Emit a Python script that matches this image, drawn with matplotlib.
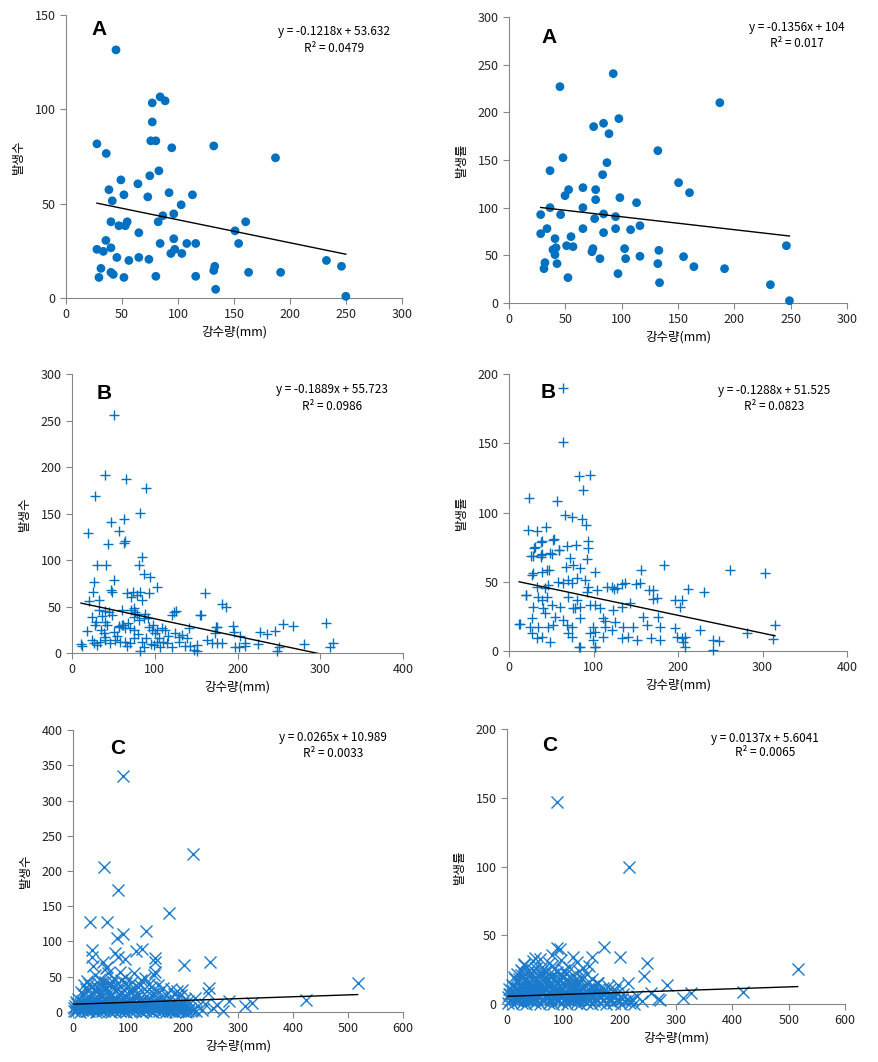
import numpy as np
import matplotlib
matplotlib.use("Agg")
import matplotlib.pyplot as plt

plt.rcParams['font.family'] = ['Noto Sans CJK KR', 'DejaVu Sans']

# ---- data -----------------------------------------------------------------
a_left_x = [44.6, 27.6, 35.9, 84, 88.5, 77, 77, 75.7, 80.2, 94.4, 131.9, 187, 82.9, 74.8, 49,
            64.2, 38.3, 92, 51.7, 112.9, 73, 41.3, 102.8, 86.4, 96.2, 40.1, 54.6, 82.3, 160.4, 47.2,
            52.9, 65, 150.9, 35.6, 96.2, 84, 107.8, 115.8, 154.1, 27.6, 33.3, 40.1, 97.1, 93.6, 103.4,
            45.4, 65, 74, 56.1, 232.5, 245.9, 132.8, 131.9, 31.2, 40.1, 42.2, 163, 191.6, 29.4, 51.7,
            80.2, 115.8, 133.6, 249.8]
a_left_y = [131.5, 81.7, 76.6, 106.6, 104.5, 103.4, 93.3, 83.3, 83.3, 79.6, 80.6, 74.3, 67.4, 64.8, 62.6,
            60.5, 57.4, 55.8, 54.7, 54.7, 53.6, 51.5, 49.4, 43.6, 44.6, 40.4, 40.4, 40.4, 40.4, 38.3,
            38.3, 34.6, 35.6, 30.5, 31.4, 28.9, 28.9, 28.9, 28.9, 25.8, 24.7, 26.6, 25.8, 23.6, 23.6,
            21.5, 21.5, 20.5, 19.9, 19.9, 16.8, 16.8, 14.6, 15.7, 13.6, 12.5, 13.6, 13.6, 10.9, 10.9,
            11.5, 11.5, 4.6, 0.9]

a_right_x = [92.5, 45.2, 187.1, 97.5, 75.1, 83.9, 88.7, 132.1, 47.9, 86.9, 36.4, 83.1, 150.5, 160.2, 65.6,
             52.9, 76.9, 49.7, 76.9, 98.4, 113.2, 36.4, 65.6, 28.1, 45.8, 83.9, 94.6, 76, 33.7, 65.6,
             94.6, 83.9, 107.9, 116.2, 28.1, 55, 40.8, 246.2, 51.1, 56.8, 41.7, 39, 74.5, 73.6, 102.6,
             133, 40.8, 116.2, 154.9, 80.7, 103.5, 31.9, 42.6, 132.1, 164.1, 31, 191.3, 96.7, 52.3, 133.6,
             232, 248.9]
a_right_y = [240.6, 226.9, 210.1, 193.4, 185, 188.5, 177.6, 159.8, 152.4, 147.2, 138.8, 134.6, 126.2, 115.7, 121,
             118.9, 118.9, 112.6, 108.4, 110.5, 105.2, 100, 100, 92.7, 92.7, 93.4, 90.6, 88.5, 78, 78,
             78, 73.8, 76.9, 81.1, 72.7, 69.6, 67.5, 60.1, 60.1, 59.1, 58, 55.9, 57, 53.8, 57,
             55.2, 50.7, 49, 48.6, 46.5, 46.5, 42.3, 41.3, 41.3, 38.1, 36, 36, 30.8, 26.6, 21.3,
             19.2, 2.4]

b_left_pts = [
    (50.8, 255.6), (39.9, 191.2), (65.7, 186.9), (89.8, 177.2), (27.8, 168.6), (82.2, 150.7), (63.2, 143.9),
    (46.7, 140.7), (56.8, 131.4), (19.3, 129.3), (64, 120.7), (63.2, 118.5), (43.1, 117.4), (84.6, 103.1),
    (30.2, 94.2), (40.7, 94.5), (81.4, 94.5), (87, 84.9), (94.3, 81.6), (50.4, 78.4), (27, 75.9),
    (102.7, 70.9), (47.5, 67.7), (25.8, 65.5), (160.7, 64.1), (180.9, 52.6), (186.1, 49.8), (125.3, 44.8),
    (156.3, 40.8), (120.8, 40.8), (307.3, 32.2), (255, 30.8), (267.1, 28.6), (194.2, 29.4), (174.4, 27.9),
    (245.3, 24), (226.8, 22.6), (235.1, 20), (203.4, 17.9), (315.4, 10.4), (280.4, 9.7), (312.3, 6.4),
    (224.8, 9.3), (250.2, 6.4), (247.8, 1.8), (10.9, 9.3), (18.1, 24), (81.8, 1.8), (151.5, 1.8),
    (208.7, 7.2), (201.8, 6.4),
    (66.5, 64.2), (73.7, 66), (82.6, 66), (92.6, 64.2), (48.3, 66), (20.9, 55.9), (32.2, 57), (71.7, 60.6),
    (78.5, 62.4), (84.6, 57), (40.3, 45.5), (44.3, 44.4), (48.3, 40.9), (60.4, 46.2), (71.7, 46.2),
    (76.5, 44.4), (122.9, 44.4), (155, 40.9), (24.2, 39.1), (29, 33.7), (40.3, 33.7), (42.3, 30.1),
    (74.5, 39.1), (80.6, 35.5), (86.6, 37.3), (56.4, 29), (60.4, 30.1), (64.5, 26.5), (92.6, 28.3),
    (96.7, 24.7), (102.7, 24.7), (108.8, 26.5), (112.8, 24.7), (141, 26.5), (28.2, 30.1), (35.4, 24.7),
    (38.3, 21.1), (40.3, 17.6), (50.4, 22.9), (70.5, 26.5), (74.5, 24.7), (124.9, 21.1), (128.9, 17.6),
    (132.9, 19.4), (139, 15.8), (175.2, 27.6), (173.2, 21.1), (195.4, 22.9), (24.2, 14), (26.2, 10.4),
    (30.2, 8.6), (34.2, 12.2), (40.3, 14), (46.3, 10.4), (52.4, 14), (64.5, 12.2), (70.5, 10.4),
    (74.5, 15.8), (84.6, 12.2), (86.6, 6.8), (98.7, 8.6), (102.7, 12.2), (106.7, 6.8), (114.8, 10.4),
    (120.8, 6.8), (128.9, 12.2), (137, 7.5), (143, 7.5), (151, 8.6), (163.1, 14), (169.2, 10.4),
    (175.2, 10.4), (181.3, 10.4), (197.4, 6.8), (209.5, 10.4), (12.1, 7.5), (147, 3.2),
    (57, 28), (62, 30), (68, 32), (75, 48), (78, 42), (88, 42), (92, 38), (98, 30), (100, 22),
    (105, 16), (110, 12), (116, 18), (36, 40), (33, 46), (54, 18), (58, 12), (66, 8), (80, 20),
    (90, 16), (95, 10)]

b_right_pts = [
    (64.3, 189.7), (63.5, 151.1), (83.2, 126.4), (95.9, 126.8), (87.2, 116.5), (24.1, 110.7), (56.8, 108.6),
    (66.6, 98.3), (74.2, 96.9), (86.8, 95.2), (90.7, 90.7), (43.8, 89.8), (22.9, 87.6), (32.8, 86.7),
    (38.7, 79.7), (53.3, 80.7), (93.1, 79.4), (79.3, 76.8), (68.3, 76.1), (31.2, 74.9), (93.1, 74.2),
    (59.6, 72.7), (50.3, 69.8), (28, 68.4), (38.3, 69.1), (91.9, 66.3), (72.6, 67), (76.2, 62),
    (67.5, 60.8), (84.1, 59.9), (182.9, 61.8), (156.1, 58.7), (261.1, 58.7), (303.3, 56.5), (101.9, 57.4),
    (47.2, 58.4), (211.5, 45), (230.5, 42.8), (166, 44.2), (150.2, 48.6), (133.2, 48.6), (115.9, 46.2),
    (124.6, 45), (170.3, 37.9), (314.8, 18.6), (281.3, 13.3), (225.9, 15), (312, 9), (241.8, 7.8),
    (248.4, 7.3), (241.8, 0.5), (11.9, 19.5), (20.2, 40.7), (83.2, 3.1), (101.7, 3.1),
    (37.9, 78.9), (52.5, 80.1), (30, 74.1), (38.7, 70), (48.5, 70.5), (59.2, 72.9), (26, 68.6),
    (37.9, 68.1), (28.8, 56.5), (27.6, 54.9), (39.4, 57.3), (44.6, 58.5), (32.7, 46.4), (42.6, 45.2),
    (46.5, 47.6), (58.4, 50), (64.3, 48.8), (70.2, 51.3), (74.2, 48.8), (80.1, 52.5), (90, 51.3),
    (93.9, 46.4), (34.7, 39.2), (38.7, 36.8), (44.6, 39.2), (70.2, 39.2), (80.1, 36.8), (91.9, 42.8),
    (103.7, 44), (121.5, 46.4), (127.4, 45.2), (137.3, 48.8), (155, 48.8), (170.8, 44), (174.7, 38),
    (196.4, 36.8), (204.3, 36.8), (202.4, 32), (28.8, 32), (40.6, 30.8), (50.5, 33.2), (60.4, 32),
    (76.1, 30.8), (84, 32), (95.8, 33.2), (101.7, 33.2), (107.7, 30.8), (123.5, 29.6), (133.3, 32),
    (143.2, 34.4), (26.8, 23.6), (42.6, 27.1), (54.4, 24.7), (64.3, 22.3), (78.1, 30.8), (84, 23.6),
    (111.6, 23.6), (113.6, 21.9), (125.5, 21.1), (135.3, 17.6), (147.2, 17.6), (159, 24.7), (163, 18.8),
    (176.8, 24.7), (178.7, 17.6), (24.9, 17.6), (34.7, 17.6), (46.5, 17.6), (52.5, 18.8), (68.3, 18.8),
    (74.2, 17.6), (99.8, 17.6), (101.7, 14), (113.6, 17.6), (121.5, 15.2), (26.8, 12.8), (32.7, 9.2),
    (38.7, 10.4), (48.5, 6.8), (70.2, 12.8), (74.2, 10.4), (95.8, 12.8), (99.8, 8), (111.6, 10.4),
    (133.3, 9.2), (141.2, 10.4), (151, 8), (168.6, 9.2), (178.7, 8), (196.4, 16.4), (198.4, 10.4),
    (204.3, 9.2), (208.3, 10.4), (84, 3.1), (101.7, 3.1), (206.3, 6.8), (208.3, 3.1), (20.1, 40.4),
    (13, 19.8)]

c_left_pts = [
    (91.5, 334.8), (218.7, 223.7), (57, 206.1), (81.2, 173), (174.8, 140), (31.3, 128.1), (62.3, 127.1),
    (132.6, 114.4), (90.3, 110.2), (80.6, 104.5), (126.1, 89.4), (114.5, 86.2), (34, 88.1), (34, 78.7),
    (76.4, 83.5), (82.4, 78.7), (95.2, 74.9), (149.1, 76.3), (149.1, 71.5), (249, 70.6), (201.2, 66.4),
    (37, 65.5), (55.2, 71.6), (61.2, 64.5), (517.6, 40.6), (423.3, 16.9), (324.8, 13.1), (312.7, 8.3),
    (283.6, 15.9), (272.1, 1.4), (246, 26.4), (247.8, 33.5), (198.2, 31.1), (146.7, 52.3), (149.7, 57),
    (110.3, 54.6), (131.5, 47.5), (84.8, 57), (60.6, 61.7), (228, 8), (235, 3), (240, 12), (255, 5),
    (262, 10),
    (2, 2), (5, 1), (9, 4), (13, 0), (17, 3), (21, 5), (25, 2), (29, 1), (33, 4), (37, 3), (41, 0),
    (45, 2), (49, 5), (53, 1), (57, 3), (61, 4), (65, 2), (69, 0), (73, 3), (77, 1), (81, 5), (85, 2),
    (89, 4), (93, 1), (97, 0), (101, 3), (105, 2), (109, 4), (113, 1), (117, 5), (121, 2), (125, 0),
    (129, 3), (133, 1), (137, 4), (141, 2), (145, 0), (149, 3), (153, 5), (157, 1), (161, 2), (165, 4),
    (169, 0), (173, 3), (177, 1), (181, 2), (185, 0), (189, 4), (193, 1), (197, 3), (201, 2), (205, 0),
    (210, 1), (215, 2),
    (1, 6), (7, 5), (11, 8), (16, 6), (20, 9), (23, 7), (27, 5), (31, 8), (35, 6), (40, 9), (43, 7),
    (47, 5), (51, 8), (56, 6), (60, 9), (63, 7), (67, 5), (71, 8), (76, 6), (80, 9), (83, 7), (87, 5),
    (91, 8), (96, 6), (100, 9), (103, 7), (107, 5), (111, 8), (115, 6), (119, 9), (124, 7), (127, 5),
    (131, 8), (135, 6), (139, 9), (143, 7), (147, 5), (151, 8), (155, 6), (159, 9), (163, 7), (167, 5),
    (171, 8), (175, 6), (179, 4), (183, 7), (187, 5), (191, 8), (195, 6), (199, 4), (203, 7), (207, 3),
    (212, 5), (218, 3), (224, 1),
    (4, 8), (8, 11), (15, 7), (19, 13), (24, 9), (28, 12), (35, 10), (39, 6), (44, 14), (50, 8), (55, 11),
    (59, 9), (64, 13), (68, 7), (74, 10), (79, 12), (84, 8), (88, 14), (95, 9), (99, 11), (104, 7),
    (110, 10), (116, 13), (122, 8), (128, 12), (134, 9), (140, 11), (146, 7), (152, 10), (158, 8),
    (165, 12), (172, 9), (180, 7), (188, 10), (196, 8), (204, 6),
    (6, 14), (12, 12), (17, 15), (22, 11), (26, 16), (30, 13), (34, 15), (38, 12), (42, 16), (46, 11),
    (53, 15), (57, 13), (61, 16), (66, 11), (70, 15), (73, 13), (77, 16), (82, 14), (86, 11), (90, 16),
    (93, 13), (98, 15), (102, 12), (106, 16), (112, 14), (118, 11), (125, 15), (131, 13), (137, 15),
    (143, 12), (149, 14), (155, 11), (162, 15), (169, 13), (177, 12), (184, 14), (192, 11), (200, 13),
    (10, 18), (18, 25), (22, 16), (27, 30), (31, 21), (36, 27), (42, 19), (47, 33), (52, 24), (56, 17),
    (62, 29), (66, 22), (71, 35), (76, 20), (83, 26), (87, 18), (92, 31), (97, 23), (103, 17), (108, 28),
    (114, 20), (119, 24), (126, 16), (132, 22), (139, 19), (145, 27), (151, 18), (160, 21), (168, 16),
    (176, 19), (185, 17), (192, 22), (203, 18), (210, 16), (222, 20),
    (14, 28), (24, 33), (29, 40), (38, 31), (43, 36), (48, 27), (53, 42), (60, 34), (65, 40), (68, 28),
    (73, 43), (78, 30), (85, 37), (90, 27), (96, 41), (102, 30), (111, 34), (116, 27), (121, 38),
    (134, 30), (148, 26), (157, 29), (170, 24), (183, 25), (196, 24),
    (20, 38), (26, 44), (33, 35), (40, 52), (45, 41), (49, 47), (54, 36), (58, 43), (63, 55), (70, 39),
    (75, 48), (80, 33), (88, 45), (94, 50), (100, 37), (107, 42), (118, 35), (124, 46), (138, 40),
    (142, 36), (155, 38), (163, 34), (178, 32), (190, 30)]

c_right_pts = [
    (89.3, 147.1), (217.2, 99.4), (516, 25.2), (419.8, 9), (326, 7.8), (313, 4.2), (283.4, 13.9),
    (271.6, 3), (249.1, 29.5), (243.2, 20.3), (200.6, 34.4), (172.8, 41.2), (150.3, 34.4), (116.6, 34.4),
    (123.6, 30.8), (88.1, 40.9), (94, 40.2), (79.3, 35.6), (49.7, 33.2), (30.8, 28.4), (215.5, 15.3),
    (197.8, 14.1), (162.3, 15.3), (230, 6), (240, 2), (255, 8), (268, 4),
    (2, 1), (6, 3), (10, 0), (14, 4), (18, 2), (22, 5), (26, 1), (30, 3), (34, 0), (38, 4), (42, 2),
    (46, 5), (50, 1), (54, 3), (58, 0), (62, 4), (66, 2), (70, 5), (74, 1), (78, 3), (82, 0), (86, 4),
    (90, 2), (94, 5), (98, 1), (102, 3), (106, 0), (110, 4), (114, 2), (118, 5), (122, 1), (126, 3),
    (130, 0), (134, 4), (138, 2), (142, 1), (146, 3), (150, 0), (155, 2), (160, 4), (165, 1), (170, 3),
    (176, 0), (182, 2), (188, 1), (195, 3), (202, 0), (210, 2), (218, 1), (226, 0),
    (1, 5), (5, 7), (8, 4), (12, 8), (16, 5), (20, 3), (24, 7), (28, 5), (32, 8), (36, 3), (40, 6),
    (44, 8), (48, 4), (52, 7), (56, 5), (60, 8), (64, 3), (68, 6), (72, 8), (76, 4), (80, 7), (84, 5),
    (88, 8), (92, 3), (96, 6), (100, 8), (104, 4), (108, 7), (112, 5), (116, 8), (120, 3), (124, 6),
    (128, 8), (132, 4), (136, 7), (140, 5), (144, 8), (148, 3), (152, 6), (157, 4), (162, 7), (167, 5),
    (173, 3), (179, 6), (185, 4), (191, 5), (198, 3), (205, 4), (214, 3), (222, 4),
    (4, 7), (9, 10), (13, 6), (17, 12), (21, 8), (27, 11), (31, 9), (36, 6), (41, 12), (45, 8), (51, 10),
    (55, 7), (60, 11), (64, 9), (69, 12), (73, 6), (79, 10), (84, 8), (89, 12), (93, 7), (99, 11),
    (104, 9), (109, 6), (115, 10), (121, 8), (127, 11), (133, 7), (140, 9), (147, 6), (153, 10),
    (160, 8), (168, 7), (177, 9), (186, 6), (196, 8), (206, 7),
    (3, 11), (11, 13), (19, 10), (23, 14), (28, 11), (33, 13), (37, 10), (43, 14), (47, 11), (50, 13),
    (54, 10), (59, 14), (65, 12), (70, 10), (75, 14), (78, 11), (83, 13), (87, 10), (92, 13), (97, 11),
    (103, 13), (108, 10), (112, 12), (118, 11), (124, 13), (130, 10), (136, 12), (143, 11), (150, 12),
    (157, 10), (164, 11), (173, 10), (183, 11), (192, 10),
    (8, 14), (15, 18), (20, 16), (25, 21), (29, 13), (34, 19), (39, 15), (44, 22), (48, 17), (53, 14),
    (57, 20), (62, 24), (67, 16), (71, 19), (76, 13), (81, 22), (86, 17), (91, 15), (96, 21), (101, 14),
    (107, 18), (113, 13), (119, 17), (125, 15), (131, 20), (138, 14), (145, 16), (152, 13), (160, 15),
    (170, 12), (180, 13),
    (12, 20), (18, 22), (22, 18), (27, 24), (32, 17), (36, 23), (42, 19), (47, 25), (50, 20), (55, 17),
    (60, 22), (65, 19), (70, 23), (73, 17), (78, 20), (84, 19), (88, 23), (94, 18), (98, 20), (105, 22),
    (111, 16), (117, 21), (123, 18), (134, 18), (142, 22), (150, 18),
    (24, 25), (30, 29), (38, 23), (46, 31), (52, 26), (58, 33), (63, 27), (68, 24), (74, 30), (80, 28),
    (85, 26), (95, 32), (102, 25), (110, 27), (128, 24), (135, 26), (145, 28)]

# trend lines: (slope, intercept, x start, x end) and their labels
fits = {
    'a_left': (-0.1218, 53.632, 27.6, 249.8),
    'a_right': (-0.1356, 104, 28.1, 248.9),
    'b_left': (-0.1889, 55.723, 10.9, 315.4),
    'b_right': (-0.1288, 51.525, 11.9, 314.8),
    'c_left': (0.0265, 10.989, 2, 517.6),
    'c_right': (0.0137, 5.6041, 2, 516),
}
eq_text = {
    'a_left': ('y = -0.1218x + 53.632', 'R² = 0.0479'),
    'a_right': ('y = -0.1356x + 104', 'R² = 0.017'),
    'b_left': ('y = -0.1889x + 55.723', 'R² = 0.0986'),
    'b_right': ('y = -0.1288x + 51.525', 'R² = 0.0823'),
    'c_left': ('y = 0.0265x + 10.989', 'R² = 0.0033'),
    'c_right': ('y = 0.0137x + 5.6041', 'R² = 0.0065'),
}

BLUE = '#0070C0'
GREY = '#868686'

fig = plt.figure(figsize=(8.79, 10.62), dpi=100)


def panel(rect, key, xs, ys, kind, xmax, xstep, ymax, ystep, ylab, letter, eqpos, letpos):
    ax = fig.add_axes(rect)
    if kind == 'o':
        ax.scatter(xs, ys, s=40, color=BLUE, edgecolors='none', clip_on=False, zorder=3)
    elif kind == '+':
        ax.plot(xs, ys, ls='none', marker='+', ms=7.5, mew=1.0, color=BLUE, clip_on=False, zorder=3)
    else:
        ax.plot(xs, ys, ls='none', marker='x', ms=8.5, mew=1.0, color='#1A7ACB', clip_on=False, zorder=3)
    m, b, x0, x1 = fits[key]
    xl = np.array([x0, x1])
    ax.plot(xl, m * xl + b, color='black', lw=1.0, zorder=4)
    ax.set_xlim(0, xmax)
    ax.set_ylim(0, ymax)
    ax.set_xticks(np.arange(0, xmax + 1, xstep))
    ax.set_yticks(np.arange(0, ymax + 1, ystep))
    for s in ['top', 'right']:
        ax.spines[s].set_visible(False)
    for s in ['left', 'bottom']:
        ax.spines[s].set_color(GREY)
    ax.tick_params(length=4, color=GREY, labelsize=9, labelcolor='#222222')
    ax.set_xlabel('강수량(mm)', fontsize=9, labelpad=3)
    ax.set_ylabel(ylab, fontsize=9, labelpad=7)
    l1, l2 = eq_text[key]
    ax.text(eqpos[0], eqpos[1], l1, transform=ax.transAxes, ha='center', va='center', fontsize=8.5)
    ax.text(eqpos[0], eqpos[2], l2, transform=ax.transAxes, ha='center', va='center', fontsize=8.5)
    ax.text(letpos[0], letpos[1], letter, transform=ax.transAxes, ha='center', va='center',
            fontsize=15, fontweight='bold', family=['Liberation Sans', 'DejaVu Sans'])
    return ax


b_lx, b_ly = zip(*b_left_pts)
b_rx, b_ry = zip(*b_right_pts)
c_lx, c_ly = zip(*c_left_pts)
c_rx, c_ry = zip(*c_right_pts)

panel([0.0751, 0.7194, 0.3823, 0.2665], 'a_left', a_left_x, a_left_y, 'o', 300, 50, 150, 50,
      '발생수', 'A', (0.798, 0.94, 0.883), (0.098, 0.95))
panel([0.5791, 0.7147, 0.3845, 0.2693], 'a_right', a_right_x, a_right_y, 'o', 300, 50, 300, 50,
      '발생률', 'A', (0.852, 0.965, 0.909), (0.118, 0.93))
panel([0.0819, 0.3851, 0.3766, 0.2627], 'b_left', b_lx, b_ly, '+', 400, 100, 300, 50,
      '발생수', 'B', (0.785, 0.943, 0.885), (0.097, 0.932))
panel([0.5791, 0.3870, 0.3845, 0.2608], 'b_right', b_rx, b_ry, '+', 400, 100, 200, 50,
      '발생률', 'B', (0.784, 0.942, 0.884), (0.115, 0.935))
panel([0.0830, 0.0471, 0.3754, 0.2655], 'c_left', c_lx, c_ly, 'x', 600, 100, 400, 50,
      '발생수', 'C', (0.788, 0.975, 0.918), (0.136, 0.936))
panel([0.5768, 0.0546, 0.3845, 0.2589], 'c_right', c_rx, c_ry, 'x', 600, 100, 200, 50,
      '발생률', 'C', (0.763, 0.967, 0.913), (0.127, 0.942))

fig.savefig('out.png', dpi=100)
